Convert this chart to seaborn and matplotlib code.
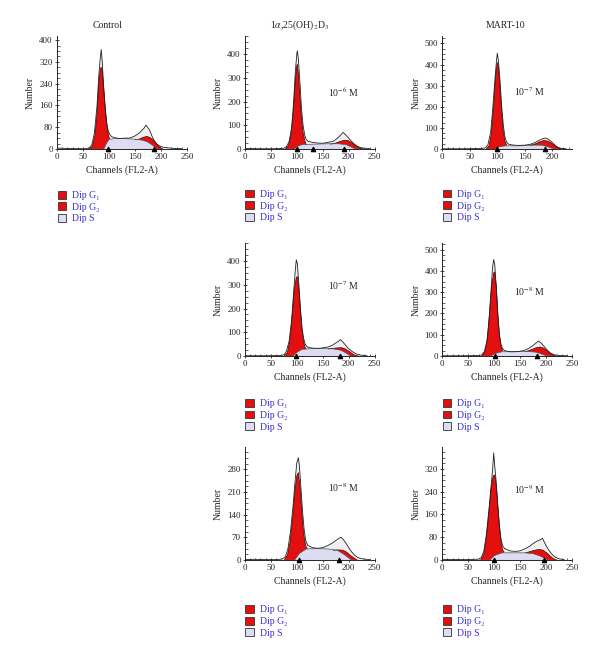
import pandas as pd
import seaborn as sns
import matplotlib.pyplot as plt
from matplotlib.patches import Patch
from matplotlib.ticker import MultipleLocator

# ---- data: (channel, count) points ----
ctrl_hist = [(0, 3), (20, 2), (40, 1), (55, 1), (62, 4), (67, 15), (72, 60), (77, 160), (80, 260), (83, 330),
             (85, 365), (87, 320), (89, 250), (92, 160), (95, 100), (98, 70), (101, 55), (105, 45), (110, 42),
             (115, 40), (120, 38), (130, 40), (140, 40), (150, 48), (158, 58), (163, 68), (168, 78), (171, 88),
             (174, 80), (178, 70), (182, 50), (187, 30), (192, 18), (198, 10), (205, 6), (215, 4), (225, 2), (240, 1)]
ctrl_g1 = [(62, 0), (68, 10), (73, 50), (77, 130), (80, 230), (83, 290), (85, 300), (87, 290), (90, 220),
           (93, 150), (96, 90), (99, 50), (101, 38)]
ctrl_g2 = [(150, 34), (158, 36), (165, 42), (172, 46), (178, 43), (185, 33), (192, 18), (198, 6), (203, 0)]
ctrl_s = [(90, 0), (95, 20), (100, 35), (110, 38), (130, 38), (150, 36), (165, 32), (175, 25), (185, 12), (192, 0)]
ctrl_marks = [98, 186]

d6_hist = [(0, 2), (30, 1), (60, 1), (75, 3), (80, 10), (85, 30), (90, 90), (94, 200), (97, 320), (100, 400),
           (101, 414), (103, 380), (106, 280), (109, 170), (112, 100), (115, 60), (118, 40), (122, 32), (130, 28),
           (140, 25), (150, 24), (160, 28), (170, 32), (178, 45), (184, 58), (189, 70), (193, 62), (198, 50),
           (204, 35), (210, 22), (216, 12), (222, 6), (230, 3), (240, 2)]
d6_g1 = [(78, 0), (84, 15), (89, 60), (93, 150), (97, 290), (100, 350), (101, 357), (103, 320), (106, 220),
         (109, 130), (112, 70), (116, 30), (118, 18)]
d6_g2 = [(165, 20), (175, 25), (185, 33), (193, 37), (200, 34), (207, 24), (214, 12), (222, 3), (228, 0)]
d6_s = [(95, 0), (102, 12), (110, 18), (130, 20), (160, 22), (180, 22), (195, 18), (205, 8), (212, 0)]
d6_marks = [101, 131, 190]

m7_hist = [(0, 1), (40, 1), (70, 2), (78, 5), (83, 20), (88, 80), (92, 200), (96, 340), (99, 430), (100, 453),
           (102, 420), (105, 320), (108, 200), (111, 110), (114, 55), (117, 32), (121, 22), (130, 18), (140, 17),
           (150, 18), (160, 22), (168, 30), (175, 40), (182, 48), (187, 52), (192, 47), (198, 35), (205, 18),
           (210, 8), (216, 3), (225, 1)]
m7_g1 = [(80, 0), (85, 15), (89, 70), (93, 190), (97, 350), (100, 409), (102, 390), (105, 290), (108, 170),
         (111, 80), (114, 35), (117, 18)]
m7_g2 = [(160, 17), (170, 25), (178, 35), (185, 40), (192, 37), (198, 28), (205, 14), (211, 4), (216, 0)]
m7_s = [(97, 0), (103, 10), (115, 15), (140, 15), (165, 18), (180, 18), (190, 12), (198, 4), (203, 0)]
m7_marks = [100, 186]

d7_hist = [(0, 1), (40, 1), (70, 2), (76, 6), (80, 20), (85, 60), (90, 150), (94, 270), (97, 360), (99, 405),
           (101, 390), (104, 300), (107, 200), (110, 120), (113, 75), (116, 50), (120, 38), (130, 33), (140, 32),
           (150, 34), (160, 38), (168, 45), (175, 55), (180, 62), (184, 69), (188, 60), (194, 45), (200, 30),
           (207, 18), (214, 9), (222, 4), (235, 1)]
d7_g1 = [(76, 0), (82, 15), (87, 70), (91, 170), (95, 280), (99, 330), (101, 335), (104, 280), (107, 190),
         (110, 110), (113, 60), (116, 35), (118, 30)]
d7_g2 = [(160, 30), (170, 32), (178, 34), (186, 35), (193, 30), (200, 20), (207, 9), (213, 2), (218, 0)]
d7_s = [(93, 0), (100, 15), (110, 28), (130, 31), (150, 31), (170, 30), (185, 24), (195, 12), (203, 0)]
d7_marks = [98, 184]

m8_hist = [(0, 1), (40, 1), (70, 2), (76, 5), (81, 20), (86, 70), (90, 170), (94, 310), (97, 420), (99, 453),
           (101, 430), (104, 320), (107, 190), (110, 100), (113, 55), (116, 35), (120, 25), (130, 20), (140, 20),
           (150, 22), (160, 28), (168, 38), (175, 50), (181, 62), (185, 70), (190, 62), (196, 45), (202, 28),
           (208, 14), (215, 6), (225, 2), (240, 1)]
m8_g1 = [(76, 0), (82, 20), (87, 80), (91, 200), (95, 330), (99, 390), (101, 395), (104, 330), (107, 200),
         (110, 100), (113, 45), (116, 25)]
m8_g2 = [(160, 20), (170, 28), (180, 38), (188, 42), (195, 37), (202, 24), (208, 11), (214, 3), (219, 0)]
m8_s = [(94, 0), (102, 12), (115, 20), (140, 20), (165, 21), (180, 18), (190, 10), (198, 3), (203, 0)]
m8_marks = [101, 183]

d8_hist = [(0, 1), (20, 2), (40, 1), (60, 1), (72, 3), (78, 10), (83, 35), (88, 90), (93, 170), (97, 250),
           (100, 300), (103, 316), (105, 290), (108, 220), (111, 150), (114, 95), (117, 60), (121, 45), (130, 38),
           (140, 36), (150, 38), (160, 45), (168, 52), (175, 60), (180, 66), (185, 70), (190, 62), (196, 48),
           (203, 30), (210, 16), (218, 7), (228, 3), (240, 1)]
d8_g1 = [(76, 0), (82, 15), (87, 55), (92, 130), (96, 210), (100, 260), (103, 270), (106, 230), (109, 160),
         (112, 100), (115, 60), (118, 40), (120, 35)]
d8_g2 = [(170, 30), (180, 31), (189, 30), (196, 24), (203, 14), (210, 6), (216, 0)]
d8_s = [(96, 0), (105, 20), (118, 34), (140, 35), (160, 34), (178, 30), (190, 18), (200, 6), (205, 0)]
d8_marks = [104, 181]

m9_hist = [(0, 1), (20, 2), (40, 1), (60, 2), (70, 3), (75, 8), (80, 30), (85, 90), (90, 180), (94, 260),
           (97, 320), (99, 376), (101, 330), (104, 270), (107, 190), (110, 120), (113, 75), (116, 50), (120, 40),
           (130, 32), (140, 30), (150, 32), (160, 40), (168, 48), (175, 58), (182, 66), (188, 70), (193, 76),
           (197, 60), (203, 40), (210, 22), (217, 10), (225, 4), (235, 1)]
m9_g1 = [(74, 0), (80, 20), (85, 80), (90, 170), (94, 250), (98, 295), (101, 298), (104, 260), (107, 190),
         (110, 120), (113, 65), (116, 35), (119, 28)]
m9_g2 = [(160, 25), (170, 30), (180, 35), (187, 37), (194, 34), (201, 25), (208, 13), (214, 4), (220, 0)]
m9_s = [(92, 0), (100, 15), (115, 25), (140, 25), (160, 25), (175, 22), (188, 14), (198, 5), (203, 0)]
m9_marks = [99, 195]

col_titles = ['Control', '1$\\alpha$,25(OH)$_2$D$_3$', 'MART-10']
legend_labels = ['Dip G\u2081', 'Dip G\u2082', 'Dip S']

RED = '#e3100f'
LAV = '#dcdcf2'
LEGEND_BLUE = '#3d2fd0'

sns.set_style('ticks')
plt.rcParams['font.family'] = ['Liberation Serif', 'DejaVu Serif']
plt.rcParams['mathtext.fontset'] = 'stix'
plt.rcParams['axes.linewidth'] = 0.7


def draw_panel(ax, hist, g1, g2, s, marks, ymax, ystep, xmax, conc, conc_x, conc_y, leg_y):
    hx, hy = zip(*hist)
    df = pd.DataFrame({'Channel': hx, 'Count': hy})
    ax.fill_between(hx, hy, color='#f0f0f0', lw=0, zorder=1)
    for comp, face, edge in [(g1, RED, '#4a0000'), (g2, RED, '#4a0000'), (s, LAV, '#555555')]:
        x, y = zip(*comp)
        ax.fill_between(x, y, facecolor=face, edgecolor='none', zorder=2)
        ax.plot(x, y, color=edge, lw=0.5, zorder=3)
    sns.lineplot(data=df, x='Channel', y='Count', ax=ax, color='#222222', lw=0.6, zorder=4)
    ax.scatter(marks, [0] * len(marks), marker='^', color='black', s=9, clip_on=False, zorder=6)

    ax.set_xlim(0, xmax)
    ax.set_ylim(0, ymax)
    ax.set_xticks(range(0, int(xmax) + 1, 50))
    ax.set_yticks(range(0, int(ymax) + 1, ystep))
    ax.xaxis.set_minor_locator(MultipleLocator(10))
    ax.yaxis.set_minor_locator(MultipleLocator(ystep / 4))
    ax.tick_params(which='major', direction='inout', length=3, width=0.6, labelsize=6.5, pad=1.5)
    ax.tick_params(which='minor', direction='in', length=1.8, width=0.5)
    ax.set_xlabel('Channels (FL2-A)', fontsize=7, labelpad=3)
    ax.set_ylabel('Number', fontsize=7, labelpad=3)
    sns.despine(ax=ax)
    if conc:
        ax.text(conc_x, conc_y, conc, transform=ax.transAxes, fontsize=7, va='center')
    handles = [Patch(facecolor=RED, edgecolor='#333333', lw=0.6),
               Patch(facecolor=RED, edgecolor='#333333', lw=0.6),
               Patch(facecolor=LAV, edgecolor='#333333', lw=0.6)]
    ax.legend(handles, legend_labels, loc='upper left', bbox_to_anchor=(0.005, leg_y), frameon=False,
              fontsize=7, labelcolor=LEGEND_BLUE, handlelength=0.85, handleheight=0.85,
              handletextpad=0.6, labelspacing=0.25, borderaxespad=0, borderpad=0)


fig = plt.figure(figsize=(6, 6.58), dpi=100)
lefts = [0.095, 0.408, 0.737]
bottoms = [0.7736, 0.459, 0.149]
w, h = 0.2167, 0.1717

panels = [
    (0, 0, ctrl_hist, ctrl_g1, ctrl_g2, ctrl_s, ctrl_marks, 415, 80, 250, '', 0, 0, -0.37),
    (0, 1, d6_hist, d6_g1, d6_g2, d6_s, d6_marks, 476, 100, 250, '10$^{-6}$ M', 0.64, 0.5, -0.36),
    (0, 2, m7_hist, m7_g1, m7_g2, m7_s, m7_marks, 535, 100, 236, '10$^{-7}$ M', 0.55, 0.51, -0.36),
    (1, 1, d7_hist, d7_g1, d7_g2, d7_s, d7_marks, 476, 100, 250, '10$^{-7}$ M', 0.64, 0.62, -0.38),
    (1, 2, m8_hist, m8_g1, m8_g2, m8_s, m8_marks, 531, 100, 250, '10$^{-8}$ M', 0.55, 0.57, -0.38),
    (2, 1, d8_hist, d8_g1, d8_g2, d8_s, d8_marks, 349, 70, 250, '10$^{-8}$ M', 0.64, 0.64, -0.40),
    (2, 2, m9_hist, m9_g1, m9_g2, m9_s, m9_marks, 397, 80, 250, '10$^{-9}$ M', 0.55, 0.62, -0.40),
]

for row, col, hist, g1, g2, s, marks, ymax, ystep, xmax, conc, cx, cy, ly in panels:
    ax = fig.add_axes([lefts[col], bottoms[row], w, h])
    draw_panel(ax, hist, g1, g2, s, marks, ymax, ystep, xmax, conc, cx, cy, ly)

for x, t in zip([0.18, 0.5, 0.843], col_titles):
    fig.text(x, 0.962, t, ha='center', va='center', fontsize=7)

fig.savefig('out.png', dpi=100)
